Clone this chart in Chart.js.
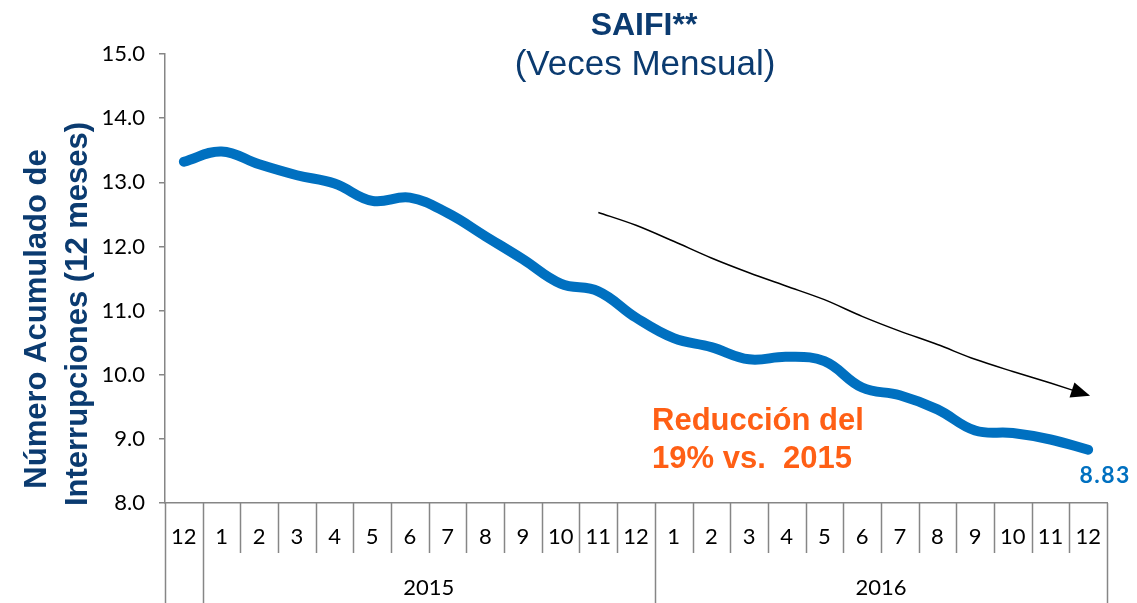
<!DOCTYPE html>
<html>
<head>
<meta charset="utf-8">
<script src="https://cdn.jsdelivr.net/npm/chart.js@4.4.0/dist/chart.umd.min.js"></script>
<style>
  html, body { margin: 0; padding: 0; background: #fff; }
  #wrap { width: 1137px; height: 603px; position: relative; }
</style>
</head>
<body>
<div id="wrap"><canvas id="saifiChart"></canvas></div>
<script>
// Meses (eje X) y años
const meses = ['12', '1', '2', '3', '4', '5', '6', '7', '8', '9', '10', '11', '12',
  '1', '2', '3', '4', '5', '6', '7', '8', '9', '10', '11', '12'];
const anios = ['', '2015', '2016'];
const aniosInicio = [0, 1, 13]; // indice del primer mes de cada grupo
// SAIFI acumulado 12 meses
const saifi = [13.32, 13.48, 13.28, 13.11, 12.98, 12.71, 12.76, 12.52, 12.16, 11.80, 11.42, 11.30, 10.89,
  10.57, 10.43, 10.24, 10.28, 10.21, 9.80, 9.68, 9.46, 9.13, 9.09, 8.99, 8.83];
// Flecha de tendencia (desde 11/2015)
const tendencia = [null, null, null, null, null, null, null, null, null, null, null, 12.53, 12.33,
  12.08, 11.82, 11.59, 11.38, 11.17, 10.91, 10.68, 10.47, 10.24, 10.05, 9.87, 9.68];
const yTicks = [8, 9, 10, 11, 12, 13, 14, 15];

const AZUL_OSCURO = '#0B3B70';
const AZUL = '#0070C0';
const NARANJA = '#FF5F15';
const GRIS = '#868686';

// Dibuja el eje X en dos niveles, titulos y anotaciones
const decoraciones = {
  id: 'decoraciones',
  afterDraw(chart) {
    const ctx = chart.ctx;
    const x = chart.scales.x;
    const area = chart.chartArea;
    const n = meses.length;
    const celda = (x.getPixelForValue(1) - x.getPixelForValue(0));
    const bordeIzq = (i) => x.getPixelForValue(i) - celda / 2;
    const filaMes = area.bottom + 50;
    const abajo = chart.height;

    ctx.save();
    ctx.strokeStyle = GRIS;
    ctx.lineWidth = 1.5;
    // separadores de meses
    for (let i = 0; i <= n; i++) {
      const px = Math.round(bordeIzq(i)) + 0.5;
      const esGrupo = aniosInicio.includes(i) || i === n;
      ctx.beginPath();
      ctx.moveTo(px, area.bottom);
      ctx.lineTo(px, esGrupo ? abajo : filaMes);
      ctx.stroke();
    }
    // etiquetas de meses
    ctx.fillStyle = '#000';
    ctx.font = '22px Lato';
    ctx.textAlign = 'center';
    ctx.textBaseline = 'middle';
    meses.forEach((m, i) => {
      ctx.fillText(m, x.getPixelForValue(i), area.bottom + 34);
    });
    // etiquetas de años
    anios.forEach((a, k) => {
      if (!a) return;
      const ini = aniosInicio[k];
      const fin = k + 1 < aniosInicio.length ? aniosInicio[k + 1] : n;
      const cx = (bordeIzq(ini) + bordeIzq(fin)) / 2;
      ctx.fillText(a, cx, area.bottom + 85);
    });

    // titulo
    ctx.fillStyle = AZUL_OSCURO;
    ctx.textBaseline = 'alphabetic';
    ctx.font = 'bold 32px "Liberation Sans", Arial';
    ctx.fillText('SAIFI**', 644, 35);
    ctx.font = '35px "Liberation Sans", Arial';
    ctx.fillText('(Veces Mensual)', 645, 75);

    // titulo eje Y
    ctx.font = 'bold 31px "Liberation Sans", Arial';
    ctx.textBaseline = 'middle';
    ctx.save();
    ctx.translate(37, 319);
    ctx.rotate(-Math.PI / 2);
    ctx.fillText('Número Acumulado de', 0, 0);
    ctx.restore();
    ctx.save();
    ctx.translate(78, 314);
    ctx.rotate(-Math.PI / 2);
    ctx.fillText('Interrupciones (12 meses)', 0, 0);
    ctx.restore();

    // texto de reduccion
    ctx.fillStyle = NARANJA;
    ctx.textAlign = 'left';
    ctx.textBaseline = 'alphabetic';
    ctx.font = 'bold 31px "Liberation Sans", Arial';
    ctx.fillText('Reducción del', 652, 430);
    ctx.fillText('19% vs.  2015', 652, 468);

    // valor final
    const ultimo = chart.getDatasetMeta(0).data[n - 1];
    ctx.fillStyle = AZUL;
    ctx.textAlign = 'center';
    ctx.font = 'bold 23px Lato';
    ctx.letterSpacing = '1.5px';
    ctx.fillText(saifi[n - 1].toFixed(2), ultimo.x + 17, ultimo.y + 33);
    ctx.letterSpacing = '0px';

    // punta de flecha
    const pts = chart.getDatasetMeta(1).data;
    const p1 = pts[n - 1], p0 = pts[n - 2];
    const ang = Math.atan2(p1.y - p0.y, p1.x - p0.x);
    ctx.fillStyle = '#000';
    ctx.translate(p1.x, p1.y);
    ctx.rotate(ang);
    ctx.beginPath();
    ctx.moveTo(2, 0);
    ctx.lineTo(-17, -8);
    ctx.lineTo(-17, 8);
    ctx.closePath();
    ctx.fill();
    ctx.restore();
  }
};

new Chart(document.getElementById('saifiChart'), {
  type: 'line',
  data: {
    labels: meses,
    datasets: [
      {
        label: 'SAIFI',
        data: saifi,
        borderColor: AZUL,
        borderWidth: 10,
        borderCapStyle: 'round',
        borderJoinStyle: 'round',
        pointRadius: 0,
        tension: 0.4,
        fill: false,
      },
      {
        label: 'Tendencia',
        data: tendencia,
        borderColor: '#000',
        borderWidth: 1.5,
        pointRadius: 0,
        tension: 0.3,
        fill: false,
      },
    ],
  },
  options: {
    responsive: true,
    maintainAspectRatio: false,
    animation: false,
    layout: {
      padding: { left: 0, right: 30, top: 54, bottom: 92 },
    },
    plugins: {
      legend: { display: false },
      tooltip: { enabled: false },
    },
    scales: {
      x: {
        offset: true,
        grid: { display: false },
        ticks: { display: false },
        border: { display: true, color: GRIS, width: 1.5 },
      },
      y: {
        min: 8,
        max: 15,
        afterFit: (scale) => { scale.width = 165; },
        afterBuildTicks: (scale) => { scale.ticks = yTicks.map((v) => ({ value: v })); },
        ticks: {
          color: '#000',
          font: { family: 'Lato', size: 22 },
          padding: 14,
          callback: (v) => Number(v).toFixed(1),
        },
        grid: { drawOnChartArea: false, tickLength: 6, color: GRIS, lineWidth: 1.5 },
        border: { color: GRIS, width: 1.5 },
      },
    },
  },
  plugins: [decoraciones],
});
</script>
</body>
</html>
